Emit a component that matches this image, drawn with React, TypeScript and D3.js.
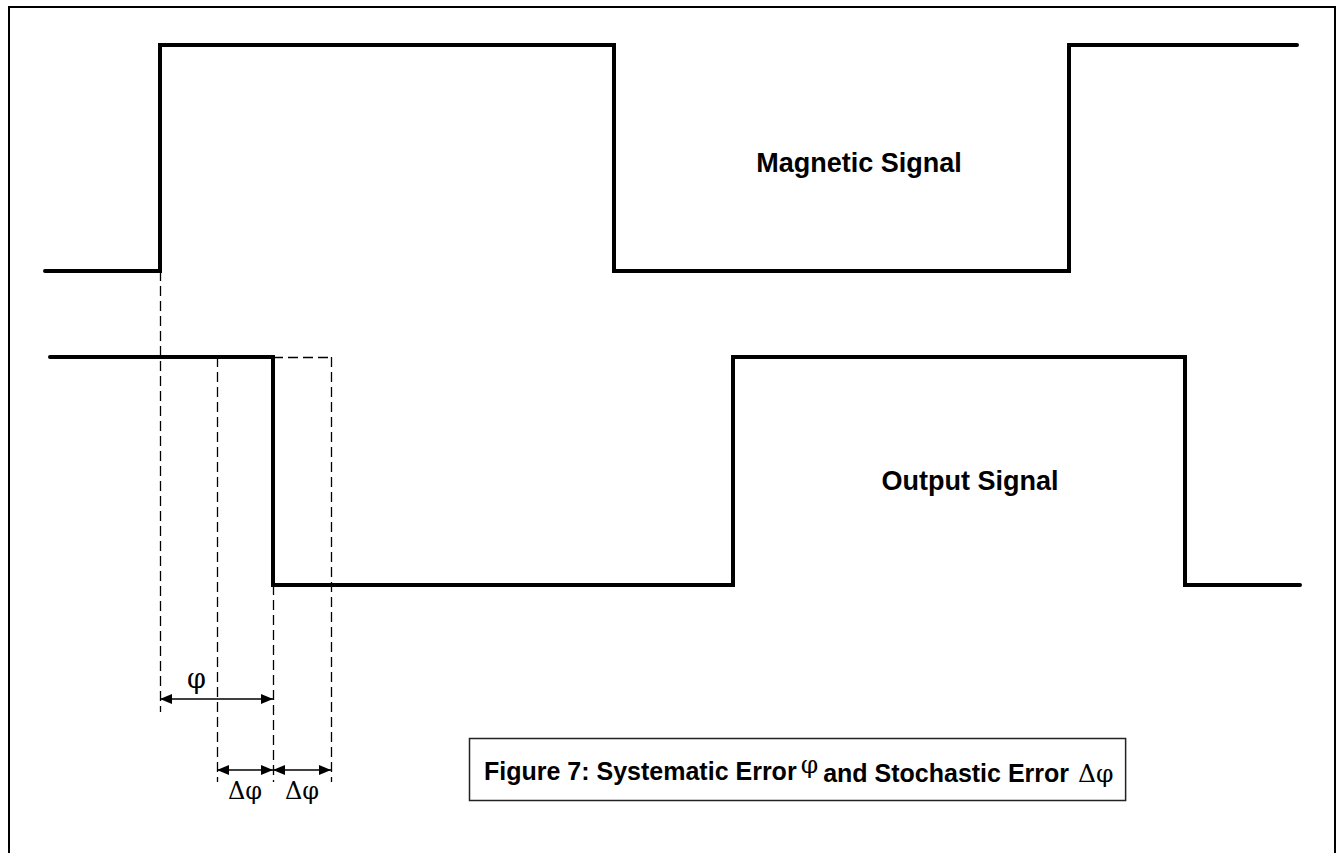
import React, { useEffect, useRef } from 'react';
import * as d3 from 'd3';

// time axis (arbitrary units)
const magneticTimes = [0, 115, 569, 1024, 1252];
const magneticLevels = [0, 1, 0, 1, 1];
const outputTimes = [5, 228, 688, 1140, 1255];
const outputLevels = [1, 0, 1, 0, 0];

// dashed reference lines: edge of magnetic signal, early / nominal / late output edge
const markerTimes = [115, 172, 228, 286];

// dimension arrows [from, to]
const phiArrow = [115, 228];
const deltaArrows = [
  [172, 228],
  [228, 286],
];

const signalLabels = ['Magnetic Signal', 'Output Signal'];
const captionParts = ['Figure 7: Systematic Error', 'φ', 'and Stochastic Error', 'Δφ'];

const W = 1340;
const H = 853;

const App: React.FC = () => {
  const svgRef = useRef<SVGSVGElement>(null);

  useEffect(() => {
    if (!svgRef.current) return;
    const svg = d3.select(svgRef.current);
    svg.selectAll('*').remove();

    const x = d3.scaleLinear().domain([0, 1255]).range([45, 1300]);
    const yMag = d3.scaleLinear().domain([0, 1]).range([271, 45]);
    const yOut = d3.scaleLinear().domain([0, 1]).range([585, 357]);

    const defs = svg.append('defs');
    defs
      .append('marker')
      .attr('id', 'head')
      .attr('viewBox', '0 0 12 10')
      .attr('refX', 12)
      .attr('refY', 5)
      .attr('markerWidth', 12)
      .attr('markerHeight', 10)
      .attr('markerUnits', 'userSpaceOnUse')
      .attr('orient', 'auto-start-reverse')
      .append('path')
      .attr('d', 'M0,0 L12,5 L0,10 Z')
      .attr('fill', '#000');

    // outer frame
    svg
      .append('rect')
      .attr('x', 9)
      .attr('y', 7)
      .attr('width', 1326)
      .attr('height', 900)
      .attr('fill', 'none')
      .attr('stroke', '#000')
      .attr('stroke-width', 2);

    // dashed guides
    const dash = svg
      .append('g')
      .attr('stroke', '#000')
      .attr('stroke-width', 1.3)
      .attr('stroke-dasharray', '10,5')
      .attr('fill', 'none');

    const guideSpans: [number, number][] = [
      [yMag(0), 712],
      [yOut(1), 782],
      [yOut(0), 782],
      [yOut(1), 782],
    ];
    markerTimes.forEach((t, i) => {
      dash
        .append('line')
        .attr('x1', x(t) + 0.5)
        .attr('x2', x(t) + 0.5)
        .attr('y1', guideSpans[i][0])
        .attr('y2', guideSpans[i][1]);
    });
    dash
      .append('line')
      .attr('x1', x(markerTimes[2]))
      .attr('x2', x(markerTimes[3]))
      .attr('y1', yOut(1) + 0.5)
      .attr('y2', yOut(1) + 0.5);

    // signals
    const line = d3
      .line<[number, number]>()
      .x((d) => x(d[0]))
      .curve(d3.curveStepAfter);

    const sig = svg
      .append('g')
      .attr('fill', 'none')
      .attr('stroke', '#000')
      .attr('stroke-width', 4)
      .attr('stroke-linejoin', 'miter')
      .attr('stroke-linecap', 'round');

    sig
      .append('path')
      .attr(
        'd',
        line.y((d) => yMag(d[1]))(magneticTimes.map((t, i) => [t, magneticLevels[i]]))
      );
    sig
      .append('path')
      .attr(
        'd',
        line.y((d) => yOut(d[1]))(outputTimes.map((t, i) => [t, outputLevels[i]]))
      );

    // arrows
    const arrows = svg.append('g').attr('stroke', '#000').attr('stroke-width', 1.5);
    const drawArrow = (a: number[], y: number) =>
      arrows
        .append('line')
        .attr('x1', x(a[0]))
        .attr('x2', x(a[1]))
        .attr('y1', y)
        .attr('y2', y)
        .attr('marker-start', 'url(#head)')
        .attr('marker-end', 'url(#head)');
    drawArrow(phiArrow, 699);
    deltaArrows.forEach((a) => drawArrow(a, 770));

    const greek = "'DejaVu Serif', 'Liberation Serif', serif";
    const sans = "'Liberation Sans', Arial, sans-serif";

    svg
      .append('text')
      .attr('x', (x(phiArrow[0]) + x(phiArrow[1])) / 2 - 20)
      .attr('y', 688)
      .attr('text-anchor', 'middle')
      .attr('font-family', greek)
      .attr('font-size', 27)
      .text('φ');
    deltaArrows.forEach((a) => {
      svg
        .append('text')
        .attr('x', (x(a[0]) + x(a[1])) / 2)
        .attr('y', 799)
        .attr('text-anchor', 'middle')
        .attr('font-family', greek)
        .attr('font-size', 24)
        .text('Δφ');
    });

    // signal names
    svg
      .append('text')
      .attr('x', 859)
      .attr('y', 172)
      .attr('text-anchor', 'middle')
      .attr('font-family', sans)
      .attr('font-weight', 'bold')
      .attr('font-size', 27)
      .text(signalLabels[0]);
    svg
      .append('text')
      .attr('x', 970)
      .attr('y', 490)
      .attr('text-anchor', 'middle')
      .attr('font-family', sans)
      .attr('font-weight', 'bold')
      .attr('font-size', 27)
      .text(signalLabels[1]);

    // caption box
    const box = svg
      .append('rect')
      .attr('x', 469.5)
      .attr('y', 738.5)
      .attr('height', 62)
      .attr('fill', '#fff')
      .attr('stroke', '#222')
      .attr('stroke-width', 1.5);

    const cap = svg
      .append('text')
      .attr('x', 484)
      .attr('y', 780)
      .attr('font-size', 25);
    cap
      .append('tspan')
      .attr('font-family', sans)
      .attr('font-weight', 'bold')
      .text(captionParts[0]);
    cap
      .append('tspan')
      .attr('font-family', greek)
      .attr('font-size', 25)
      .attr('dx', 4)
      .attr('dy', -7)
      .text(captionParts[1]);
    cap
      .append('tspan')
      .attr('font-family', sans)
      .attr('font-weight', 'bold')
      .attr('dx', 5)
      .attr('dy', 9)
      .text(captionParts[2]);
    cap
      .append('tspan')
      .attr('font-family', greek)
      .attr('font-size', 25)
      .attr('dx', 9)
      .attr('dy', 0)
      .text(captionParts[3]);

    const bb = (cap.node() as SVGTextElement).getBBox();
    box.attr('width', bb.x + bb.width + 12 - 469.5);
  }, []);

  return (
    <svg
      ref={svgRef}
      width={W}
      height={H}
      style={{ position: 'absolute', left: 0, top: 0, background: '#fff' }}
    />
  );
};

export default App;
